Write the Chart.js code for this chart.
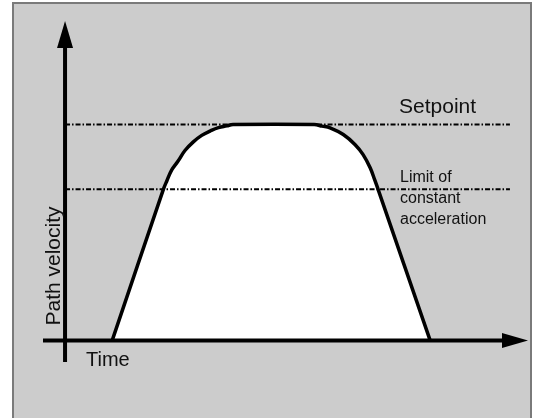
<!DOCTYPE html>
<html>
<head>
<meta charset="utf-8">
<script src="https://cdn.jsdelivr.net/npm/chart.js@4.4.1/dist/chart.umd.min.js"></script>
<style>
  html, body { margin: 0; padding: 0; background: #fff; }
  canvas { display: block; }
</style>
</head>
<body>
<canvas id="velocityChart" width="537" height="418"></canvas>
<script>
// velocity profile: time vs path velocity (setpoint = 1)
const timeValues     = [1.07, 2.23, 2.31, 2.42, 2.56, 2.72, 2.91, 3.10, 3.29, 3.48, 3.67, 3.81, 5.65, 5.83, 6.01, 6.31, 6.58, 6.76, 6.92, 7.03, 7.10, 8.28];
const velocityValues = [0,    0.70, 0.74, 0.79, 0.83, 0.88, 0.92, 0.95, 0.97, 0.986, 0.994, 1,  1,    0.993, 0.985, 0.954, 0.907, 0.861, 0.80, 0.74, 0.70, 0];

const setpointLevel = 1;
const limitLevel = 0.7;
const refLineTime = [0, 10.09];

const timeRange = [-0.5, 10.5];
const velocityRange = [-0.1, 1.48];

const FONT = '"Liberation Sans", Arial, sans-serif';

const curvePoints = timeValues.map((t, i) => ({ x: t, y: velocityValues[i] }));
const refLine = level => refLineTime.map(t => ({ x: t, y: level }));

const diagramFrame = {
  id: 'diagramFrame',
  beforeDraw(chart) {
    const { ctx, width, height } = chart;
    ctx.save();
    ctx.fillStyle = '#ffffff';
    ctx.fillRect(0, 0, width, height);
    ctx.fillStyle = '#cccccc';
    ctx.fillRect(12, 2, 520, height);
    ctx.strokeStyle = '#7a7a7a';
    ctx.lineWidth = 2;
    ctx.strokeRect(13, 3, 518, height + 10);
    ctx.restore();
  },
  afterDatasetsDraw(chart) {
    const { ctx } = chart;
    const xs = chart.scales.x, ys = chart.scales.y;
    const x0 = xs.getPixelForValue(0), y0 = ys.getPixelForValue(0);
    const xEnd = xs.getPixelForValue(timeRange[1]);
    const xStart = xs.getPixelForValue(timeRange[0]);
    const yTop = ys.getPixelForValue(velocityRange[1]);
    const yBottom = ys.getPixelForValue(velocityRange[0]);

    ctx.save();
    ctx.strokeStyle = '#000';
    ctx.fillStyle = '#000';
    ctx.lineWidth = 4;

    // time axis
    ctx.beginPath();
    ctx.moveTo(xStart, y0);
    ctx.lineTo(xEnd - 20, y0);
    ctx.stroke();
    ctx.beginPath();
    ctx.moveTo(xEnd, y0);
    ctx.lineTo(xEnd - 26, y0 - 7.5);
    ctx.lineTo(xEnd - 26, y0 + 7.5);
    ctx.closePath();
    ctx.fill();

    // velocity axis
    ctx.beginPath();
    ctx.moveTo(x0, yBottom);
    ctx.lineTo(x0, yTop + 20);
    ctx.stroke();
    ctx.beginPath();
    ctx.moveTo(x0, yTop);
    ctx.lineTo(x0 - 8, yTop + 27);
    ctx.lineTo(x0 + 8, yTop + 27);
    ctx.closePath();
    ctx.fill();

    // labels
    ctx.fillStyle = '#111';
    ctx.textBaseline = 'alphabetic';
    ctx.textAlign = 'left';
    ctx.font = '20px ' + FONT;
    ctx.fillText('Time', 86, y0 + 26);

    ctx.font = '21px ' + FONT;
    ctx.fillText('Setpoint', 399, ys.getPixelForValue(setpointLevel) - 12);

    ctx.font = '16px ' + FONT;
    const yLim = ys.getPixelForValue(limitLevel);
    ctx.fillText('Limit of', 400, yLim - 7);
    ctx.fillText('constant', 400, yLim + 14);
    ctx.fillText('acceleration', 400, yLim + 35);

    ctx.translate(60, 266);
    ctx.rotate(-Math.PI / 2);
    ctx.textAlign = 'center';
    ctx.font = '21px ' + FONT;
    ctx.fillText('Path velocity', 0, 0);
    ctx.restore();
  }
};

new Chart(document.getElementById('velocityChart'), {
  type: 'line',
  data: {
    datasets: [
      {
        label: 'Setpoint',
        data: refLine(setpointLevel),
        borderColor: '#000',
        borderWidth: 2,
        borderDash: [5, 2, 1.5, 2],
        pointRadius: 0,
        fill: false
      },
      {
        label: 'Limit of constant acceleration',
        data: refLine(limitLevel),
        borderColor: '#000',
        borderWidth: 2,
        borderDash: [5, 2, 1.5, 2],
        pointRadius: 0,
        fill: false
      },
      {
        label: 'Path velocity',
        data: curvePoints,
        borderColor: '#000',
        borderWidth: 3.5,
        backgroundColor: '#ffffff',
        fill: 'origin',
        tension: 0.4,
        pointRadius: 0,
        clip: false
      }
    ]
  },
  options: {
    responsive: false,
    devicePixelRatio: 1,
    animation: false,
    layout: { padding: { left: 43, right: 9, top: 21, bottom: 56 } },
    plugins: { legend: { display: false }, tooltip: { enabled: false } },
    scales: {
      x: { type: 'linear', min: timeRange[0], max: timeRange[1], display: false },
      y: { type: 'linear', min: velocityRange[0], max: velocityRange[1], display: false }
    }
  },
  plugins: [diagramFrame]
});
</script>
</body>
</html>
